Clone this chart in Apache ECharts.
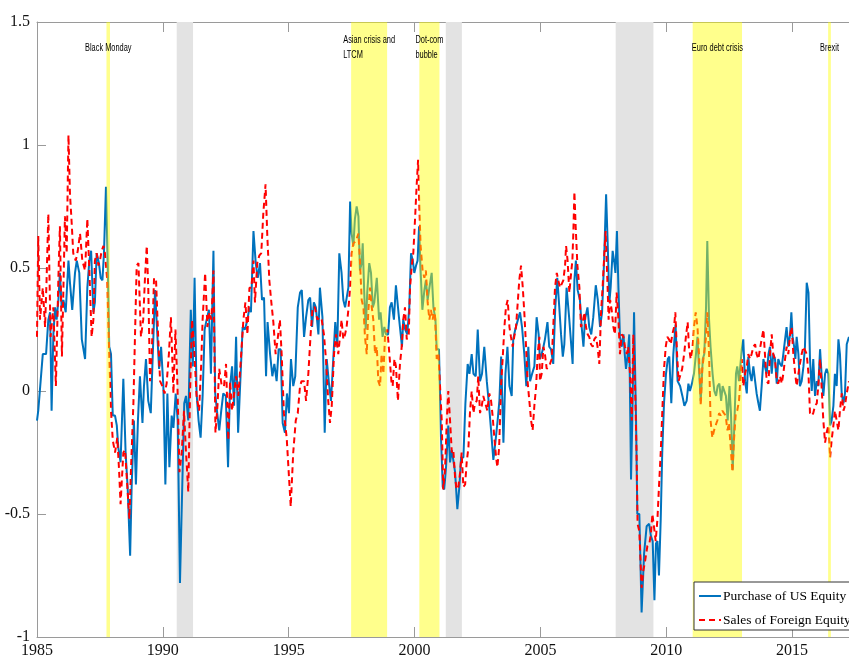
<!DOCTYPE html>
<html><head><meta charset="utf-8">
<script src="https://cdn.jsdelivr.net/npm/echarts@6/dist/echarts.min.js"></script>
<style>html,body{margin:0;padding:0;background:#fff}#c{width:849px;height:665px}</style>
</head><body><div id="c"></div>
<script>
// ---- data (year, value) ----
const purchaseUS = [
[1985.00,-0.12],[1985.05,-0.08],[1985.23,0.15],[1985.36,0.15],[1985.45,0.29],[1985.52,0.32],[1985.58,-0.08],[1985.65,0.23],[1985.72,0.34],[1985.78,0.29],[1985.85,0.37],[1985.91,0.48],[1985.98,0.34],[1986.05,0.37],[1986.14,0.32],[1986.25,0.53],[1986.31,0.44],[1986.40,0.33],[1986.51,0.48],[1986.58,0.53],[1986.68,0.48],[1986.78,0.21],[1986.84,0.21],[1986.91,0.13],[1987.00,0.42],[1987.08,0.53],[1987.15,0.57],[1987.24,0.32],[1987.30,0.36],[1987.37,0.56],[1987.46,0.52],[1987.53,0.46],[1987.60,0.45],[1987.66,0.56],[1987.74,0.83],[1987.81,0.52],[1987.87,0.18],[1987.94,0.15],[1988.01,-0.10],[1988.10,-0.10],[1988.17,-0.14],[1988.23,-0.23],[1988.32,-0.29],[1988.43,0.05],[1988.52,-0.25],[1988.60,-0.39],[1988.70,-0.67],[1988.76,-0.39],[1988.85,-0.12],[1988.93,-0.38],[1989.01,-0.12],
[1989.09,0.06],[1989.19,-0.13],[1989.25,0.02],[1989.33,0.13],[1989.42,-0.04],[1989.52,-0.09],[1989.60,0.15],[1989.69,0.41],[1989.75,0.29],[1989.85,0.09],[1989.93,0.18],[1990.02,0.02],[1990.10,-0.38],[1990.18,-0.01],[1990.26,-0.31],[1990.35,-0.10],[1990.42,-0.15],[1990.51,-0.01],[1990.59,-0.12],[1990.68,-0.78],[1990.77,-0.39],[1990.85,-0.05],[1990.92,-0.02],[1991.01,-0.12],[1991.11,0.33],[1991.19,0.10],[1991.26,0.46],[1991.34,-0.01],[1991.42,-0.12],[1991.50,-0.19],[1991.58,-0.02],[1991.66,0.25],[1991.74,0.29],[1991.83,0.33],[1991.91,0.07],[1992.01,0.57],[1992.08,-0.01],[1992.16,-0.09],[1992.24,-0.16],[1992.32,-0.08],[1992.40,-0.01],[1992.50,-0.02],[1992.59,-0.31],[1992.67,0.02],[1992.75,0.10],[1992.83,-0.06],[1992.91,0.22],[1992.99,-0.17],
[1993.09,0.07],[1993.17,0.26],[1993.26,0.25],[1993.36,0.29],[1993.44,0.34],[1993.50,0.32],[1993.60,0.65],[1993.69,0.52],[1993.77,0.46],[1993.86,0.52],[1993.94,0.37],[1994.02,0.38],[1994.10,0.06],[1994.16,0.28],[1994.26,0.15],[1994.35,0.06],[1994.43,0.11],[1994.52,0.04],[1994.60,0.17],[1994.68,0.17],[1994.76,-0.13],[1994.85,-0.17],[1994.93,-0.01],[1995.01,-0.09],[1995.09,0.13],[1995.18,0.02],[1995.26,0.06],[1995.36,0.34],[1995.45,0.40],[1995.52,0.41],[1995.61,0.22],[1995.69,0.30],[1995.78,0.37],[1995.85,0.38],[1995.93,0.26],[1996.00,0.36],[1996.08,0.34],[1996.18,0.23],[1996.24,0.42],[1996.34,0.30],[1996.43,-0.17],[1996.51,0.13],[1996.60,0.03],[1996.68,-0.04],[1996.77,0.13],[1996.85,0.28],[1996.93,0.18],[1997.01,0.56],
[1997.10,0.48],[1997.17,0.37],[1997.24,0.34],[1997.30,0.34],[1997.37,0.42],[1997.44,0.77],[1997.50,0.64],[1997.57,0.59],[1997.63,0.70],[1997.70,0.75],[1997.77,0.71],[1997.83,0.49],[1997.90,0.52],[1997.94,0.60],[1998.00,0.40],[1998.06,0.25],[1998.12,0.40],[1998.20,0.52],[1998.27,0.48],[1998.34,0.34],[1998.40,0.36],[1998.50,0.46],[1998.59,0.29],[1998.65,0.32],[1998.73,0.22],[1998.80,0.26],[1998.87,0.23],[1998.95,0.23],[1999.02,0.34],[1999.09,0.36],[1999.18,0.29],[1999.26,0.43],[1999.36,0.32],[1999.42,0.26],[1999.50,0.18],[1999.55,0.29],[1999.63,0.25],[1999.71,0.23],[1999.79,0.34],[1999.86,0.56],[1999.93,0.53],[1999.99,0.48],[2000.06,0.51],[2000.12,0.53],[2000.18,0.67],[2000.24,0.49],[2000.31,0.33],[2000.39,0.41],[2000.45,0.45],[2000.52,0.37],[2000.59,0.42],[2000.68,0.48],[2000.75,0.34],[2000.83,0.29],[2000.88,0.17],[2000.97,0.17],
[2001.05,-0.19],[2001.12,-0.39],[2001.18,-0.40],[2001.25,-0.31],[2001.34,-0.14],[2001.41,-0.29],[2001.48,-0.24],[2001.54,-0.24],[2001.61,-0.33],[2001.70,-0.48],[2001.78,-0.39],[2001.85,-0.27],[2001.94,-0.27],[2002.02,-0.05],[2002.11,0.11],[2002.18,0.07],[2002.27,0.15],[2002.34,0.07],[2002.43,0.06],[2002.51,0.25],[2002.60,0.04],[2002.68,0.07],[2002.77,0.18],[2002.87,0.04],[2002.96,-0.06],[2003.04,-0.16],[2003.13,-0.28],[2003.21,-0.21],[2003.30,-0.12],[2003.37,-0.04],[2003.44,0.14],[2003.53,-0.21],[2003.61,0.07],[2003.69,0.18],[2003.77,0.02],[2003.86,-0.02],[2003.92,0.21],[2004.00,0.25],[2004.08,0.28],[2004.19,0.32],[2004.27,0.26],[2004.36,0.15],[2004.44,0.02],[2004.52,0.18],[2004.59,0.04],[2004.67,0.07],[2004.76,0.10],[2004.85,0.30],[2004.93,0.23],
[2004.98,0.13],[2005.05,0.15],[2005.12,0.18],[2005.18,0.21],[2005.28,0.28],[2005.35,0.18],[2005.42,0.17],[2005.51,0.11],[2005.59,0.34],[2005.67,0.46],[2005.75,0.34],[2005.82,0.23],[2005.89,0.14],[2005.95,0.19],[2006.04,0.42],[2006.14,0.30],[2006.20,0.22],[2006.28,0.11],[2006.35,0.45],[2006.41,0.53],[2006.48,0.41],[2006.57,0.37],[2006.64,0.26],[2006.71,0.18],[2006.77,0.29],[2006.87,0.34],[2006.94,0.26],[2007.02,0.23],[2007.10,0.30],[2007.20,0.43],[2007.28,0.37],[2007.37,0.26],[2007.45,0.32],[2007.53,0.53],[2007.61,0.80],[2007.67,0.61],[2007.74,0.36],[2007.79,0.42],[2007.87,0.57],[2007.94,0.52],[2007.98,0.48],[2008.04,0.65],[2008.10,0.42],[2008.16,0.22],[2008.23,0.18],[2008.30,0.23],[2008.35,0.15],[2008.40,0.09],[2008.47,0.15],[2008.53,0.23],[2008.60,-0.36],[2008.65,-0.12],[2008.72,0.32],[2008.80,-0.12],[2008.85,-0.50],[2008.93,-0.50],
[2009.02,-0.90],[2009.12,-0.66],[2009.22,-0.55],[2009.32,-0.54],[2009.39,-0.59],[2009.46,-0.61],[2009.53,-0.85],[2009.59,-0.62],[2009.65,-0.61],[2009.71,-0.75],[2009.78,-0.52],[2009.84,-0.25],[2009.91,-0.05],[2009.99,0.07],[2010.06,0.13],[2010.12,0.14],[2010.20,-0.05],[2010.28,0.15],[2010.37,0.27],[2010.45,0.04],[2010.55,0.02],[2010.64,-0.02],[2010.72,-0.06],[2010.81,-0.04],[2010.88,0.03],[2010.94,0.00],[2011.02,0.03],[2011.10,0.07],[2011.18,0.15],[2011.24,0.22],[2011.30,0.09],[2011.37,-0.04],[2011.45,0.13],[2011.51,0.15],[2011.58,0.34],[2011.63,0.61],[2011.70,0.29],[2011.76,0.18],[2011.84,0.07],[2011.91,0.00],[2011.98,-0.02],[2012.04,0.02],[2012.11,0.03],[2012.18,-0.04],[2012.24,0.02],[2012.31,0.02],[2012.37,-0.02],[2012.44,-0.12],[2012.51,0.02],[2012.57,-0.09],[2012.64,-0.32],[2012.71,-0.12],[2012.77,0.07],[2012.82,0.10],[2012.89,0.04],
[2013.00,0.17],[2013.06,0.21],[2013.13,0.04],[2013.20,-0.01],[2013.26,0.14],[2013.33,0.07],[2013.39,0.04],[2013.46,0.10],[2013.53,0.04],[2013.59,-0.01],[2013.66,-0.05],[2013.72,-0.08],[2013.79,0.02],[2013.86,0.13],[2013.92,0.10],[2013.99,0.07],[2014.06,0.15],[2014.12,0.18],[2014.19,0.07],[2014.25,0.15],[2014.32,0.13],[2014.39,0.03],[2014.45,0.13],[2014.52,0.11],[2014.59,0.10],[2014.65,0.15],[2014.72,0.21],[2014.78,0.26],[2014.85,0.18],[2014.92,0.23],[2014.97,0.32],[2015.02,0.22],[2015.08,0.18],[2015.13,0.13],[2015.18,0.22],[2015.25,0.15],[2015.31,0.02],[2015.38,0.04],[2015.45,0.10],[2015.51,0.18],[2015.58,0.44],[2015.65,0.40],[2015.71,0.13],[2015.78,0.00],[2015.84,0.13],[2015.91,-0.02],[2015.98,0.04],[2016.04,0.02],[2016.11,0.17],[2016.17,0.07],[2016.24,-0.02],[2016.31,0.07],[2016.37,0.09],[2016.44,0.07],[2016.51,-0.14],[2016.57,-0.12],[2016.64,-0.06],[2016.70,0.07],[2016.77,0.02],[2016.84,0.21],[2016.90,0.15],[2016.97,-0.01],[2017.04,-0.05],[2017.10,-0.01],[2017.17,0.19],[2017.26,0.22]
];
const salesForeign = [
[1985.00,0.22],[1985.05,0.63],[1985.12,0.29],[1985.23,0.42],[1985.32,0.26],[1985.38,0.45],[1985.45,0.72],[1985.54,0.22],[1985.65,0.34],[1985.75,0.02],[1985.85,0.46],[1985.91,0.67],[1985.99,0.14],[1986.05,0.42],[1986.11,0.71],[1986.18,0.56],[1986.25,1.04],[1986.31,0.80],[1986.38,0.68],[1986.44,0.56],[1986.54,0.53],[1986.62,0.57],[1986.71,0.64],[1986.80,0.53],[1986.91,0.49],[1987.00,0.70],[1987.08,0.49],[1987.17,0.22],[1987.24,0.29],[1987.30,0.53],[1987.37,0.56],[1987.44,0.51],[1987.50,0.53],[1987.57,0.57],[1987.64,0.59],[1987.70,0.56],[1987.79,0.45],[1987.87,0.15],[1987.94,-0.08],[1988.01,-0.20],[1988.10,-0.25],[1988.19,-0.19],[1988.26,-0.32],[1988.32,-0.46],[1988.43,-0.25],[1988.50,-0.24],[1988.59,-0.39],[1988.67,-0.52],[1988.73,-0.33],[1988.83,-0.05],[1988.89,0.21],[1988.96,0.51],[1989.03,0.52],
[1989.13,0.22],[1989.22,0.29],[1989.29,0.46],[1989.36,0.59],[1989.42,0.42],[1989.49,0.04],[1989.56,0.15],[1989.65,0.46],[1989.73,0.45],[1989.81,0.23],[1989.89,0.04],[1989.98,0.02],[1990.07,-0.01],[1990.15,0.03],[1990.24,0.15],[1990.32,0.30],[1990.42,-0.01],[1990.50,0.25],[1990.58,0.02],[1990.66,-0.33],[1990.75,-0.25],[1990.84,-0.08],[1990.92,-0.25],[1991.01,-0.41],[1991.08,-0.01],[1991.16,0.29],[1991.24,0.18],[1991.34,-0.02],[1991.44,-0.08],[1991.52,0.10],[1991.58,0.29],[1991.68,0.48],[1991.77,0.26],[1991.85,0.32],[1991.93,0.29],[1992.01,0.49],[1992.09,-0.17],[1992.17,-0.06],[1992.24,0.09],[1992.34,0.02],[1992.43,0.02],[1992.51,0.11],[1992.60,-0.20],[1992.67,0.04],[1992.75,-0.08],[1992.83,-0.01],[1992.91,0.06],[1993.00,-0.02],
[1993.10,0.13],[1993.20,0.29],[1993.28,0.36],[1993.36,0.23],[1993.44,0.42],[1993.52,0.42],[1993.60,0.53],[1993.66,0.36],[1993.75,0.52],[1993.83,0.55],[1993.91,0.56],[1993.99,0.72],[1994.08,0.84],[1994.15,0.63],[1994.23,0.45],[1994.31,0.36],[1994.39,0.28],[1994.48,0.15],[1994.56,0.21],[1994.65,0.29],[1994.72,0.15],[1994.81,-0.09],[1994.92,-0.19],[1995.00,-0.33],[1995.08,-0.47],[1995.18,-0.25],[1995.28,-0.12],[1995.36,-0.09],[1995.45,0.02],[1995.51,0.04],[1995.61,0.04],[1995.69,-0.04],[1995.78,0.07],[1995.87,0.23],[1995.95,0.34],[1996.04,0.34],[1996.14,0.29],[1996.22,0.30],[1996.31,0.29],[1996.40,0.23],[1996.48,0.13],[1996.57,-0.04],[1996.64,-0.13],[1996.71,-0.06],[1996.80,0.15],[1996.88,0.23],[1996.97,0.15],
[1997.10,0.29],[1997.17,0.21],[1997.24,0.23],[1997.30,0.26],[1997.37,0.33],[1997.44,0.42],[1997.50,0.56],[1997.57,0.60],[1997.67,0.61],[1997.77,0.64],[1997.83,0.53],[1997.90,0.37],[1997.97,0.34],[1998.03,0.22],[1998.10,0.15],[1998.16,0.32],[1998.23,0.42],[1998.30,0.34],[1998.36,0.29],[1998.43,0.15],[1998.50,0.18],[1998.56,0.04],[1998.63,0.02],[1998.69,0.15],[1998.76,0.07],[1998.83,0.23],[1998.92,0.25],[1999.00,0.15],[1999.08,0.04],[1999.13,0.02],[1999.20,0.13],[1999.26,0.10],[1999.34,-0.04],[1999.42,0.11],[1999.49,0.18],[1999.55,0.29],[1999.62,0.34],[1999.69,0.21],[1999.77,0.23],[1999.82,0.42],[1999.89,0.51],[1999.95,0.56],[2000.02,0.70],[2000.08,0.83],[2000.14,0.94],[2000.19,0.75],[2000.24,0.59],[2000.32,0.49],[2000.39,0.46],[2000.45,0.49],[2000.52,0.36],[2000.59,0.29],[2000.65,0.33],[2000.72,0.29],[2000.80,0.34],[2000.88,0.13],[2000.95,0.15],
[2001.08,-0.12],[2001.14,-0.40],[2001.21,-0.32],[2001.28,-0.12],[2001.34,0.00],[2001.41,-0.12],[2001.48,-0.25],[2001.54,-0.24],[2001.61,-0.35],[2001.67,-0.40],[2001.74,-0.39],[2001.81,-0.33],[2001.87,-0.25],[2001.94,-0.39],[2002.01,-0.38],[2002.07,-0.29],[2002.14,-0.23],[2002.20,-0.09],[2002.27,0.00],[2002.34,-0.09],[2002.40,-0.05],[2002.47,-0.04],[2002.53,0.06],[2002.60,-0.09],[2002.67,-0.06],[2002.73,-0.02],[2002.80,-0.02],[2002.89,-0.08],[2002.97,-0.01],[2003.04,-0.04],[2003.10,-0.10],[2003.17,-0.19],[2003.24,-0.27],[2003.29,-0.31],[2003.36,-0.23],[2003.44,0.03],[2003.50,0.13],[2003.57,0.26],[2003.63,0.34],[2003.70,0.37],[2003.77,0.26],[2003.83,0.22],[2003.90,0.18],[2003.96,0.22],[2004.03,0.26],[2004.10,0.36],[2004.16,0.45],[2004.23,0.51],[2004.30,0.42],[2004.36,0.32],[2004.43,0.18],[2004.49,0.04],[2004.56,-0.04],[2004.63,-0.12],[2004.69,-0.16],[2004.76,-0.06],[2004.83,0.02],[2004.89,0.15],[2004.96,0.22],
[2004.98,0.04],[2005.05,0.07],[2005.12,0.18],[2005.18,0.15],[2005.25,0.09],[2005.32,0.10],[2005.38,0.11],[2005.45,0.13],[2005.51,0.26],[2005.58,0.42],[2005.65,0.48],[2005.71,0.45],[2005.78,0.42],[2005.84,0.42],[2005.91,0.45],[2005.98,0.51],[2006.02,0.59],[2006.08,0.53],[2006.15,0.40],[2006.22,0.48],[2006.27,0.53],[2006.31,0.65],[2006.35,0.81],[2006.40,0.67],[2006.47,0.51],[2006.55,0.42],[2006.61,0.26],[2006.68,0.28],[2006.75,0.32],[2006.81,0.26],[2006.88,0.23],[2006.94,0.22],[2007.01,0.19],[2007.08,0.18],[2007.14,0.21],[2007.21,0.22],[2007.27,0.18],[2007.34,0.11],[2007.41,0.32],[2007.47,0.42],[2007.54,0.56],[2007.59,0.65],[2007.66,0.45],[2007.71,0.29],[2007.77,0.37],[2007.83,0.33],[2007.90,0.26],[2007.96,0.23],[2008.03,0.40],[2008.10,0.29],[2008.16,0.15],[2008.23,0.23],[2008.30,0.22],[2008.36,0.18],[2008.43,0.15],[2008.49,0.18],[2008.56,0.07],[2008.63,-0.12],[2008.69,0.23],[2008.76,0.02],[2008.82,-0.25],[2008.86,-0.54],[2008.93,-0.57],
[2009.02,-0.80],[2009.09,-0.73],[2009.16,-0.69],[2009.25,-0.63],[2009.33,-0.62],[2009.39,-0.58],[2009.45,-0.50],[2009.51,-0.55],[2009.58,-0.61],[2009.65,-0.52],[2009.71,-0.39],[2009.78,-0.25],[2009.84,-0.09],[2009.91,0.09],[2009.98,0.18],[2010.04,0.22],[2010.11,0.21],[2010.18,0.19],[2010.24,0.23],[2010.31,0.26],[2010.36,0.32],[2010.43,0.15],[2010.49,0.04],[2010.56,0.04],[2010.63,0.09],[2010.71,0.15],[2010.78,0.22],[2010.85,0.28],[2010.90,0.18],[2010.97,0.13],[2011.04,0.17],[2011.10,0.26],[2011.17,0.32],[2011.24,0.26],[2011.30,0.15],[2011.37,-0.06],[2011.43,0.09],[2011.50,0.15],[2011.57,0.21],[2011.63,0.32],[2011.70,0.15],[2011.76,-0.12],[2011.83,-0.19],[2011.90,-0.16],[2011.96,-0.14],[2012.03,-0.12],[2012.10,-0.09],[2012.16,-0.10],[2012.23,-0.08],[2012.29,-0.09],[2012.36,-0.10],[2012.43,-0.16],[2012.49,-0.13],[2012.56,-0.23],[2012.63,-0.33],[2012.69,-0.20],[2012.76,-0.09],[2012.82,-0.08],[2012.89,-0.04],
[2013.00,0.13],[2013.06,0.02],[2013.13,0.07],[2013.20,0.10],[2013.26,0.15],[2013.33,0.13],[2013.39,0.15],[2013.46,0.18],[2013.53,0.19],[2013.59,0.15],[2013.66,0.13],[2013.72,0.17],[2013.79,0.21],[2013.86,0.25],[2013.92,0.15],[2013.99,0.04],[2014.06,0.03],[2014.12,0.15],[2014.19,0.23],[2014.25,0.15],[2014.32,0.13],[2014.39,0.04],[2014.45,0.03],[2014.52,0.06],[2014.59,0.03],[2014.65,0.07],[2014.72,0.13],[2014.78,0.18],[2014.85,0.15],[2014.92,0.23],[2014.98,0.26],[2015.05,0.15],[2015.12,0.07],[2015.18,0.02],[2015.25,0.07],[2015.31,0.11],[2015.38,0.15],[2015.45,0.18],[2015.51,0.18],[2015.58,0.15],[2015.65,0.07],[2015.71,-0.09],[2015.78,-0.10],[2015.84,-0.09],[2015.91,-0.06],[2015.98,-0.05],[2016.04,0.02],[2016.11,0.13],[2016.17,0.02],[2016.24,-0.12],[2016.31,-0.21],[2016.37,-0.17],[2016.44,-0.14],[2016.51,-0.27],[2016.57,-0.20],[2016.64,-0.14],[2016.70,-0.08],[2016.77,-0.12],[2016.84,-0.16],[2016.90,-0.08],[2016.97,-0.01],[2017.04,-0.08],[2017.10,-0.06],[2017.17,-0.01],[2017.26,0.04]
];
const recessionStarts = [1990.55, 2001.24, 2007.99];
const recessionEnds   = [1991.20, 2001.88, 2009.49];
const eventNames  = ['Black Monday', 'Asian crisis and\nLTCM', 'Dot-com\nbubble', 'Euro debt crisis', 'Brexit'];
const eventStarts = [1987.76, 1997.48, 2000.19, 2011.05, 2016.43];
const eventEnds   = [1987.90, 1998.91, 2000.99, 2013.01, 2016.54];
const seriesNames = ['Purchase of US Equity', 'Sales of Foreign Equity'];
const xMin = 1985, xMax = 2017.26, xStep = 5;
const yMin = -1, yMax = 1.5, yStep = 0.5;

const serif = '"Liberation Serif", "Times New Roman", serif';
const sans = '"Liberation Sans", Arial, sans-serif';
const axisGray = '#9a9a9a';

function bandRect(api, fill) {
  const a = api.coord([api.value(0), yMax]);
  const b = api.coord([api.value(1), yMin]);
  return {type: 'rect', shape: {x: a[0], y: a[1], width: b[0] - a[0], height: b[1] - a[1]}, style: {fill: fill}};
}

const chart = echarts.init(document.getElementById('c'), null, {renderer: 'canvas'});
chart.setOption({
  animation: false,
  backgroundColor: '#fff',
  grid: {left: 37, right: 0, top: 22, bottom: 28, containLabel: false},
  legend: {
    data: seriesNames, z: 20,
    orient: 'vertical', left: 694, top: 582,
    padding: [7, 8, 3, 4], itemGap: 10, itemWidth: 22, itemHeight: 14,
    backgroundColor: '#fff', borderColor: '#333', borderWidth: 1, borderRadius: 0,
    itemStyle: {color: 'rgba(0,0,0,0)', borderColor: 'rgba(0,0,0,0)', borderWidth: 0},
    textStyle: {fontFamily: serif, fontSize: 13.5, color: '#000', padding: [0, 0, 0, -3]}
  },
  xAxis: [
    {type: 'value', position: 'bottom', min: xMin, max: xMax, interval: xStep,
     axisLine: {show: true, onZero: false, lineStyle: {color: axisGray, width: 1}},
     axisTick: {show: true, inside: true, length: 10, lineStyle: {color: axisGray}},
     axisLabel: {show: true, margin: 6, fontFamily: serif, fontSize: 16, color: '#111', showMaxLabel: false,
                 formatter: v => String(v)},
     splitLine: {show: false}},
    {type: 'value', position: 'top', min: xMin, max: xMax, interval: xStep,
     axisLine: {show: true, onZero: false, lineStyle: {color: axisGray, width: 1}},
     axisTick: {show: true, inside: true, length: 10, lineStyle: {color: axisGray}},
     axisLabel: {show: false}, splitLine: {show: false}}
  ],
  yAxis: {
    type: 'value', min: yMin, max: yMax, interval: yStep,
    axisLine: {show: true, onZero: false, lineStyle: {color: axisGray, width: 1}},
    axisTick: {show: true, inside: true, length: 9, lineStyle: {color: axisGray}},
    axisLabel: {show: true, margin: 7, fontFamily: serif, fontSize: 16, color: '#111'},
    splitLine: {show: false}
  },
  series: [
    {type: 'custom', z: 1, silent: true, xAxisIndex: 0, yAxisIndex: 0,
     data: recessionStarts.map((s, i) => [s, recessionEnds[i]]),
     encode: {x: [0, 1]},
     renderItem: (params, api) => bandRect(api, '#e3e3e3')},
    {name: seriesNames[0], type: 'line', z: 2, data: purchaseUS, symbol: 'none', showSymbol: false,
     lineStyle: {color: '#0072BD', width: 2}, itemStyle: {color: '#0072BD'}},
    {name: seriesNames[1], type: 'line', z: 3, data: salesForeign, symbol: 'none', showSymbol: false,
     lineStyle: {color: '#FF0000', width: 2, type: [6, 4]}, itemStyle: {color: '#FF0000'}},
    {type: 'custom', z: 4, silent: true, xAxisIndex: 0, yAxisIndex: 0,
     data: eventStarts.map((s, i) => [s, eventEnds[i]]),
     encode: {x: [0, 1]},
     renderItem: (params, api) => {
       const r = bandRect(api, 'rgba(255,255,0,0.45)');
       const a = api.coord([api.value(0), yMax]);
       const b = api.coord([api.value(1), yMax]);
       const lines = eventNames[params.dataIndex].split('\n').map(t => '{t|' + t + '}').join('\n');
       return {type: 'group', children: [r, {
         type: 'text', z2: 10,
         x: (a[0] + b[0]) / 2, y: a[1] + 26, scaleX: 0.74, scaleY: 1,
         style: {text: lines, x: 0, y: 0, align: 'center', verticalAlign: 'middle',
                 rich: {t: {align: 'left', fontFamily: sans, fontSize: 10, fill: '#000', lineHeight: 15}},
                 fontFamily: sans, fontSize: 10, fill: '#000'}
       }]};
     }}
  ]
});
</script></body></html>
